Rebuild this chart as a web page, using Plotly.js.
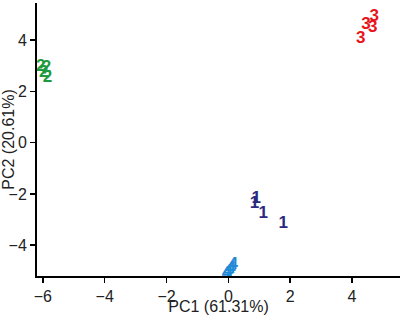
<!DOCTYPE html>
<html><head><meta charset="utf-8">
<script src="https://cdn.plot.ly/plotly-3.0.1.min.js"></script>
<style>html,body{margin:0;padding:0;background:#fff}#chart{width:403px;height:315px}</style>
</head><body><div id="chart"></div>
<script>
var g1x = [0.90, 0.84, 1.13, 1.77];
var g1y = [-2.19, -2.38, -2.77, -3.16];
var g2x = [-6.07, -5.88, -5.97, -5.85];
var g2y = [2.95, 2.93, 2.73, 2.52];
var g3x = [4.72, 4.45, 4.67, 4.28];
var g3y = [4.90, 4.60, 4.50, 4.05];
var g4x = [0.16, 0.08, 0.00, -0.06];
var g4y = [-4.78, -4.92, -5.03, -5.12];
var labels = ["1", "2", "3", "4"];
var colors = ["#2b2a80", "#1e9a3e", "#e8141c", "#1f8ad6"];
var xs = [g1x, g2x, g3x, g4x], ys = [g1y, g2y, g3y, g4y];
var traces = xs.map(function(x, i){
  return {x: x, y: ys[i], mode: 'text', type: 'scatter',
    text: x.map(function(){return '<b>' + labels[i] + '</b>';}),
    textposition: 'middle center',
    textfont: {family: 'Liberation Sans, Arial, sans-serif', size: 17, color: colors[i]},
    hoverinfo: 'none', showlegend: false, cliponaxis: false};
});
var layout = {
  width: 403, height: 315,
  margin: {l: 37, r: 3, t: 3, b: 39},
  paper_bgcolor: '#fff', plot_bgcolor: '#fff',
  font: {family: 'Liberation Sans, Arial, sans-serif', size: 16, color: '#222'},
  xaxis: {range: [-6.19, 5.55], tickvals: [-6,-4,-2,0,2,4], ticks: 'outside', ticklen: 5, tickwidth: 1.5, tickcolor: '#000',
    showline: true, linecolor: '#000', linewidth: 2, showgrid: false, zeroline: false,
    title: {text: 'PC1 (61.31%)', standoff: 0, font: {size: 16, color: '#222'}}, tickfont: {size: 16, color: '#222'}},
  yaxis: {range: [-5.2, 5.45], tickvals: [-4,-2,0,2,4], ticks: 'outside', ticklen: 5, tickwidth: 1.5, tickcolor: '#000',
    showline: true, linecolor: '#000', linewidth: 2, showgrid: false, zeroline: false,
    title: {text: 'PC2 (20.61%)', standoff: 2, font: {size: 16, color: '#222'}}, tickfont: {size: 16, color: '#222'}}
};
Plotly.newPlot('chart', traces, layout, {staticPlot: true, displayModeBar: false});
</script></body></html>
